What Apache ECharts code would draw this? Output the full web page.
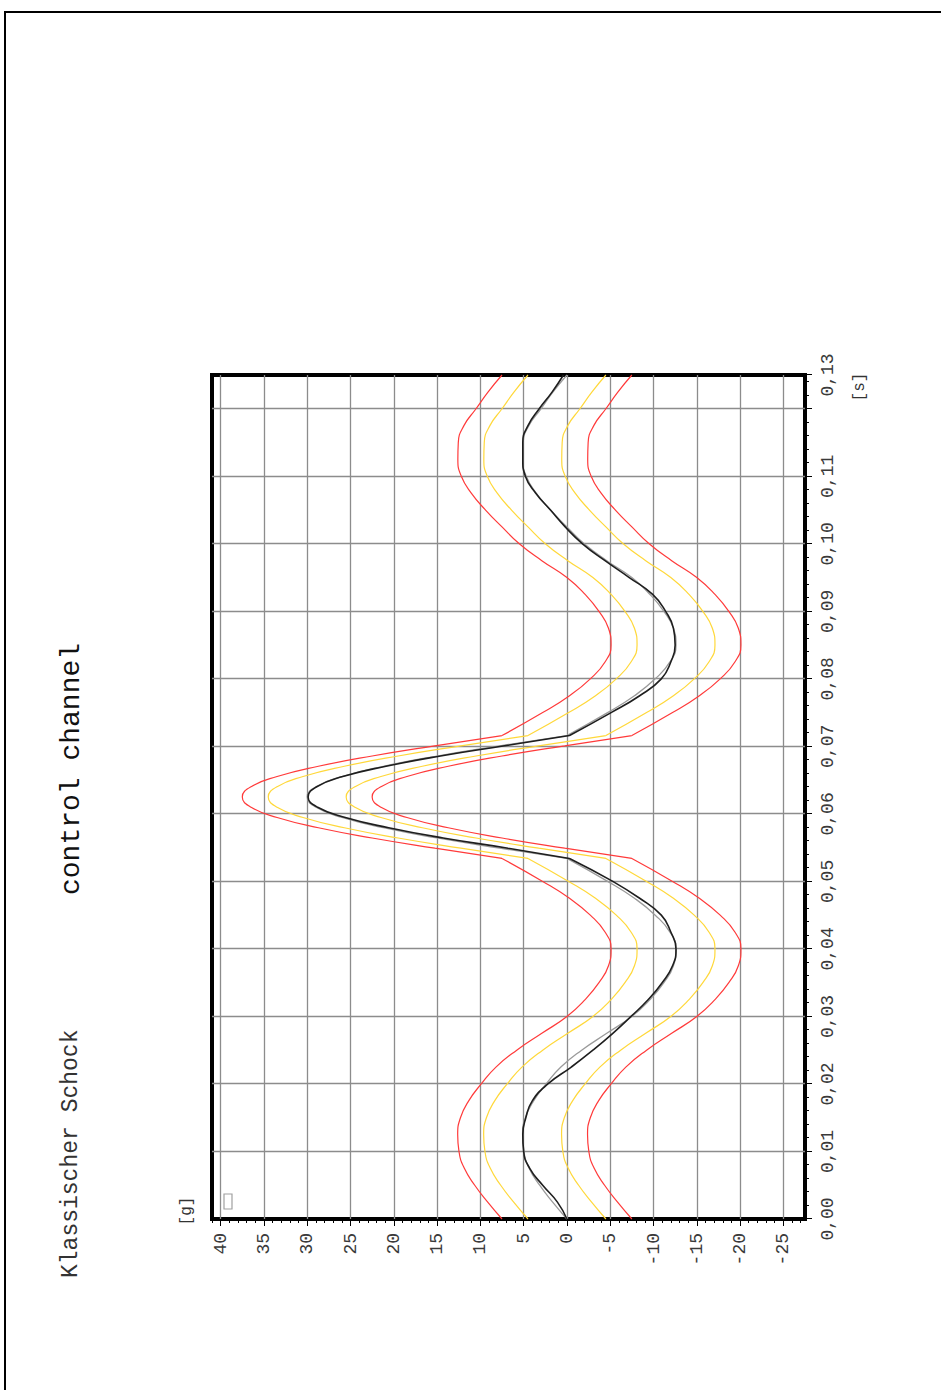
<!DOCTYPE html>
<html>
<head>
<meta charset="utf-8">
<title>control channel</title>
<script src="https://cdn.jsdelivr.net/npm/echarts@6/dist/echarts.min.js"></script>
<style>
  html, body { margin: 0; padding: 0; background: #fff; overflow: hidden; }
  #page { position: absolute; left: 0; top: 0; width: 941px; height: 1390px; overflow: hidden; background: #fff; }
  /* the plot is laid out landscape and turned a quarter turn counter-clockwise */
  #chart { position: absolute; left: 0; top: 0; width: 1390px; height: 941px;
           transform-origin: 0 0; transform: translate(0, 1390px) rotate(-90deg); }
</style>
</head>
<body>
<div id="page"><div id="chart"></div></div>
<script>
// time samples [s]; the corner times of the main pulse appear twice (end of one segment, start of the next)
const timeS = [
  0, 0.0025, 0.005, 0.0075, 0.01, 0.0125, 0.015, 0.0175, 0.02, 0.0225, 0.025, 0.0275,
  0.03, 0.0325, 0.035, 0.0375, 0.04, 0.0425, 0.045, 0.0475, 0.05, 0.0534,
  0.0534, 0.05492, 0.05643, 0.05795, 0.05947, 0.06098, 0.0625, 0.06402, 0.06553, 0.06705, 0.06857, 0.07008, 0.0716,
  0.0716, 0.075, 0.0775, 0.08, 0.0825, 0.085, 0.0875, 0.09, 0.0925, 0.095, 0.0975, 0.1,
  0.1025, 0.105, 0.1075, 0.11, 0.1125, 0.115, 0.1175, 0.12, 0.1225, 0.125
];

// reference profile [g]
const referenceG = [
  0, 1.65, 3.15, 4.35, 4.97, 5.12, 4.8, 3.85, 2.4, 0.7, -1.7, -4.6, -7.5, -9.6, -11.2, -12.3, -12.6, -11.9, -10.2, -7.8, -4.7, 0,
  0, 7.76, 15.0, 21.21, 25.98, 28.98, 30.0, 28.98, 25.98, 21.21, 15.0, 7.76, 0,
  0, -4.7, -7.8, -10.2, -11.9, -12.6, -12.3, -11.2, -9.6, -7.5, -4.6, -2.0, 0, 1.9, 3.55, 4.7, 5.1, 5.05, 4.4, 3.0, 1.6, 0
];

// measured control channel [g]
const measuredG = [
  0, 1.1, 2.8, 4.3, 5.0, 5.1, 4.75, 4.0, 2.2, -0.5, -3.0, -5.3, -7.4, -9.4, -11.0, -12.2, -12.6, -12.0, -10.9, -8.4, -5.3, -0.3,
  -0.3, 6.8, 14.3, 20.6, 25.6, 28.8, 29.9, 28.9, 25.9, 20.9, 14.6, 7.2, -0.3,
  -0.3, -5.1, -8.4, -10.9, -12.0, -12.5, -12.3, -11.4, -9.9, -7.2, -4.4, -1.8, 0.2, 1.9, 3.6, 4.8, 5.1, 5.1, 4.5, 3.2, 1.7, 0.4
];

// warning limits (yellow)
const warnUpperG = [
  4.5, 6.15, 7.65, 8.85, 9.47, 9.62, 9.3, 8.35, 6.9, 5.2, 2.8, -0.1, -3.0, -5.1, -6.7, -7.8, -8.1, -7.4, -5.7, -3.3, -0.2, 4.5,
  4.5, 12.26, 19.5, 25.71, 30.48, 33.48, 34.5, 33.48, 30.48, 25.71, 19.5, 12.26, 4.5,
  4.5, -0.2, -3.3, -5.7, -7.4, -8.1, -7.8, -6.7, -5.1, -3.0, -0.1, 2.5, 4.5, 6.4, 8.05, 9.2, 9.6, 9.55, 8.9, 7.5, 6.1, 4.5
];
const warnLowerG = [
  -4.5, -2.85, -1.35, -0.15, 0.47, 0.62, 0.3, -0.65, -2.1, -3.8, -6.2, -9.1, -12.0, -14.1, -15.7, -16.8, -17.1, -16.4, -14.7, -12.3, -9.2, -4.5,
  -4.5, 3.26, 10.5, 16.71, 21.48, 24.48, 25.5, 24.48, 21.48, 16.71, 10.5, 3.26, -4.5,
  -4.5, -9.2, -12.3, -14.7, -16.4, -17.1, -16.8, -15.7, -14.1, -12.0, -9.1, -6.5, -4.5, -2.6, -0.95, 0.2, 0.6, 0.55, -0.1, -1.5, -2.9, -4.5
];

// abort limits (red)
const abortUpperG = [
  7.5, 9.15, 10.65, 11.85, 12.47, 12.62, 12.3, 11.35, 9.9, 8.2, 5.8, 2.9, 0, -2.1, -3.7, -4.8, -5.1, -4.4, -2.7, -0.3, 2.8, 7.5,
  7.5, 15.26, 22.5, 28.71, 33.48, 36.48, 37.5, 36.48, 33.48, 28.71, 22.5, 15.26, 7.5,
  7.5, 2.8, -0.3, -2.7, -4.4, -5.1, -4.8, -3.7, -2.1, 0, 2.9, 5.5, 7.5, 9.4, 11.05, 12.2, 12.6, 12.55, 11.9, 10.5, 9.1, 7.5
];
const abortLowerG = [
  -7.5, -5.85, -4.35, -3.15, -2.53, -2.38, -2.7, -3.65, -5.1, -6.8, -9.2, -12.1, -15.0, -17.1, -18.7, -19.8, -20.1, -19.4, -17.7, -15.3, -12.2, -7.5,
  -7.5, 0.26, 7.5, 13.71, 18.48, 21.48, 22.5, 21.48, 18.48, 13.71, 7.5, 0.26, -7.5,
  -7.5, -12.2, -15.3, -17.7, -19.4, -20.1, -19.8, -18.7, -17.1, -15.0, -12.1, -9.5, -7.5, -5.6, -3.95, -2.8, -2.4, -2.45, -3.1, -4.5, -5.9, -7.5
];

// axis ticks
const gTickValues = [-25, -20, -15, -10, -5, 0, 5, 10, 15, 20, 25, 30, 35, 40];
const gRange = [-27.5, 41];
const timeRange = [0, 0.125];
const timeStep = 0.01;
const hiddenTimeLabels = [0.12];

const gMinorTicks = [];
for (let v = Math.ceil(gRange[0]); v <= Math.floor(gRange[1]); v++) {
  if (v % 5 !== 0) gMinorTicks.push(v);
}

const MONO = "'Liberation Mono', 'DejaVu Sans Mono', monospace";

// pair each value with its time; a blank point separates the segments at the pulse corners
function toPoints(values) {
  const pts = [];
  for (let i = 0; i < timeS.length; i++) {
    if (i > 0 && timeS[i] === timeS[i - 1]) pts.push([timeS[i], '-']);
    pts.push([timeS[i], values[i]]);
  }
  return pts;
}

function line(name, values, color, width, z) {
  return {
    name: name, type: 'line', data: toPoints(values),
    showSymbol: false, symbol: 'none', smooth: 0.5, silent: true, z: z,
    lineStyle: { color: color, width: width }
  };
}

const chart = echarts.init(document.getElementById('chart'), null, { renderer: 'svg', width: 1390, height: 941 });

const axisText = { fontSize: 18, fontFamily: MONO, color: '#3a3a3a' };
const gridLine = { color: '#8c8c8c', width: 1.3 };

chart.setOption({
  animation: false,
  backgroundColor: '#ffffff',
  grid: { left: 171, right: 375, top: 212, bottom: 136, show: true, borderColor: '#000', borderWidth: 4 },
  xAxis: {
    type: 'value', min: timeRange[0], max: timeRange[1], interval: timeStep, position: 'bottom',
    axisLine: { show: false, onZero: false },
    axisTick: { show: true, length: 7, lineStyle: { color: '#000', width: 1 } },
    minorTick: { show: true, splitNumber: 5, length: 4, lineStyle: { color: '#000', width: 1 } },
    axisLabel: Object.assign({
      margin: 14, showMinLabel: true, showMaxLabel: true,
      formatter: function (v) {
        for (const h of hiddenTimeLabels) if (Math.abs(v - h) < 1e-9) return '';
        return v.toFixed(2).replace('.', ',');
      }
    }, axisText),
    splitLine: { show: true, showMinLine: false, showMaxLine: false, lineStyle: gridLine },
    minorSplitLine: { show: false }
  },
  yAxis: [
    {
      type: 'value', min: gRange[0], max: gRange[1], position: 'left',
      axisLine: { show: false, onZero: false },
      axisTick: { show: true, length: 7, customValues: gTickValues, lineStyle: { color: '#000', width: 1 } },
      axisLabel: Object.assign({ margin: 14, customValues: gTickValues }, axisText),
      splitLine: { show: true, lineStyle: gridLine }
    },
    {
      type: 'value', min: gRange[0], max: gRange[1], position: 'left', offset: 0,
      axisLine: { show: false, onZero: false },
      axisTick: { show: true, length: 4, customValues: gMinorTicks, lineStyle: { color: '#000', width: 1 } },
      axisLabel: { show: false },
      splitLine: { show: false }
    }
  ],
  series: [
    line('abort upper', abortUpperG, '#ff3a3a', 1.2, 2),
    line('abort lower', abortLowerG, '#ff3a3a', 1.2, 2),
    line('warning upper', warnUpperG, '#ffd83a', 1.2, 3),
    line('warning lower', warnLowerG, '#ffd83a', 1.2, 3),
    line('reference', referenceG, '#9a9a9a', 1.3, 4),
    line('control channel', measuredG, '#1e1e1e', 1.6, 5)
  ],
  graphic: [
    { type: 'rect', z: 0, silent: true,
      shape: { x: -10, y: 5, width: 1388, height: 960 },
      style: { fill: 'none', stroke: '#000', lineWidth: 2 } },
    { type: 'text', silent: true, x: 112, y: 71,
      style: { text: 'Klassischer Schock', fontSize: 23, fontFamily: MONO, fill: '#333',
               align: 'left', textAlign: 'left', verticalAlign: 'middle', textVerticalAlign: 'middle' } },
    { type: 'text', silent: true, x: 495, y: 71,
      style: { text: 'control channel', fontSize: 28, fontFamily: MONO, fill: '#111',
               align: 'left', textAlign: 'left', verticalAlign: 'middle', textVerticalAlign: 'middle' } },
    { type: 'text', silent: true, x: 179, y: 187,
      style: { text: '[g]', fontSize: 16, fontFamily: MONO, fill: '#333',
               align: 'center', textAlign: 'center', verticalAlign: 'middle', textVerticalAlign: 'middle' } },
    { type: 'text', silent: true, x: 1003, y: 860,
      style: { text: '[s]', fontSize: 16, fontFamily: MONO, fill: '#333',
               align: 'center', textAlign: 'center', verticalAlign: 'middle', textVerticalAlign: 'middle' } },
    { type: 'rect', silent: true, z: 10,
      shape: { x: 181, y: 224, width: 15, height: 8 },
      style: { fill: 'none', stroke: '#a0a0a0', lineWidth: 1.2 } }
  ]
});
</script>
</body>
</html>
